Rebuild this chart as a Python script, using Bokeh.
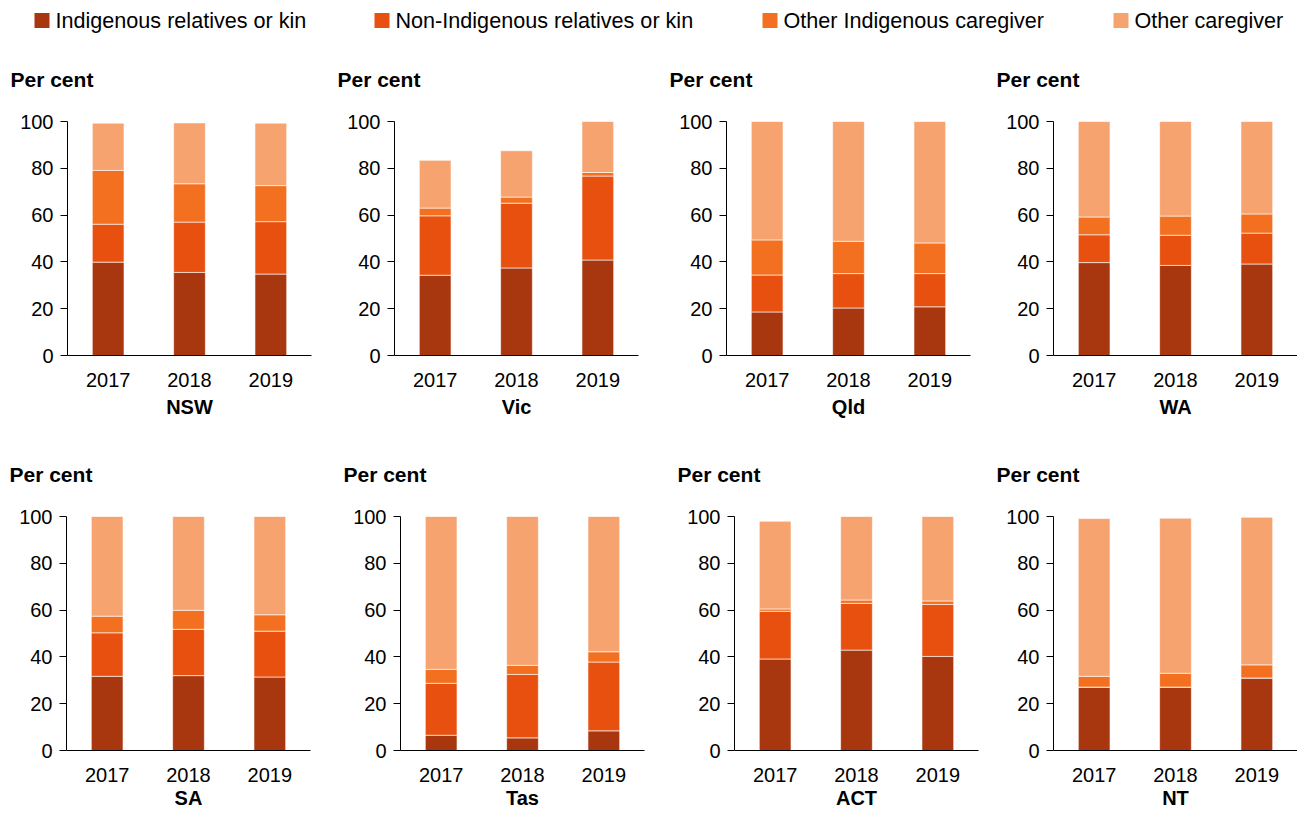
from bokeh.plotting import figure
from bokeh.layouts import column, row
from bokeh.models import ColumnDataSource, Range1d, FactorRange, SingleIntervalTicker
from bokeh.core.properties import value
from bokeh.embed import file_html
from bokeh.resources import INLINE

# ---------------- data ----------------
states = ["NSW", "Vic", "Qld", "WA", "SA", "Tas", "ACT", "NT"]
years = ["2017", "2018", "2019"]
series_names = ["Indigenous relatives or kin", "Non-Indigenous relatives or kin",
                "Other Indigenous caregiver", "Other caregiver"]

indigenous_kin = [[39.9, 35.5, 34.8], [34.3, 37.4, 40.8], [18.6, 20.3, 20.8], [39.7, 38.5, 39.1],
                  [31.7, 32.0, 31.4], [6.5, 5.4, 8.4], [39.1, 42.9, 40.2], [27.1, 27.1, 31.0]]
non_indigenous_kin = [[16.2, 21.5, 22.4], [25.4, 27.7, 35.9], [15.8, 14.7, 14.2], [11.9, 12.9, 13.2],
                      [18.6, 19.8, 19.6], [22.2, 27.1, 29.4], [20.4, 20.0, 22.2], [0.0, 0.0, 0.0]]
other_indigenous = [[23.0, 16.4, 15.4], [3.3, 2.6, 1.5], [15.0, 13.8, 13.1], [7.6, 8.2, 8.2],
                    [7.1, 8.1, 7.0], [6.0, 3.9, 4.4], [1.0, 1.4, 1.5], [4.6, 5.9, 5.6]]
other_caregiver = [[20.2, 26.0, 26.7], [20.4, 19.8, 21.8], [50.6, 51.2, 51.9], [40.8, 40.4, 39.5],
                   [42.6, 40.1, 42.0], [65.3, 63.6, 57.8], [37.5, 35.7, 36.1], [67.4, 66.3, 63.1]]

colors = ["#A8360E", "#E8500F", "#F37021", "#F6A370"]

FONT = "Liberation Sans"
FRAME_W = 244
FRAME_H = 234

# layout: (figure width, left border) per column, per row
top_cols = [(330, 67), (330, 64), (330, 66), (307, 63)]
bot_cols = [(330, 66), (330, 70), (330, 74), (307, 63)]
BORDER_TOP = 86
TOP_H = 395
BOT_H = 382


def panel(i, w, left, h, tick_standoff, label_standoff):
    keys = ["a", "b", "c", "d"]
    data = {"year": years}
    for k, s in zip(keys, [indigenous_kin, non_indigenous_kin, other_indigenous, other_caregiver]):
        data[k] = s[i]
    src = ColumnDataSource(data)
    p = figure(x_range=FactorRange(*years, range_padding=0), y_range=Range1d(0, 100),
               width=w, height=h, output_backend="svg", toolbar_location=None,
               min_border_left=left, min_border_right=w - left - FRAME_W,
               min_border_top=BORDER_TOP, min_border_bottom=h - BORDER_TOP - FRAME_H)
    p.vbar_stack(keys, x="year", width=0.39, color=colors, source=src,
                 line_color="white", line_width=0.6)
    p.outline_line_color = None
    p.grid.visible = False
    p.background_fill_color = "white"
    p.border_fill_color = "white"

    p.title.text = "Per cent"
    p.title.align = "left"
    p.title.offset = -57
    p.title.standoff = 61
    p.title.text_font = FONT
    p.title.text_font_size = "21px"
    p.title.text_font_style = "bold"
    p.title.text_color = "#000000"

    p.yaxis.ticker = SingleIntervalTicker(interval=20)
    p.yaxis.minor_tick_line_color = None
    p.yaxis.major_tick_out = 7
    p.yaxis.major_tick_in = 0
    p.yaxis.major_label_standoff = 7
    p.yaxis.major_label_text_font = FONT
    p.yaxis.major_label_text_font_size = "20px"
    p.yaxis.major_label_text_color = "#000000"
    p.yaxis.axis_line_color = "#000000"
    p.yaxis.major_tick_line_color = "#000000"

    p.xaxis.major_tick_line_color = None
    p.xaxis.minor_tick_line_color = None
    p.xaxis.major_label_standoff = tick_standoff
    p.xaxis.major_label_text_font = FONT
    p.xaxis.major_label_text_font_size = "20px"
    p.xaxis.major_label_text_color = "#000000"
    p.xaxis.axis_line_color = "#000000"
    p.xaxis.axis_label = states[i]
    p.xaxis.axis_label_standoff = label_standoff
    p.xaxis.axis_label_text_font = FONT
    p.xaxis.axis_label_text_font_size = "20px"
    p.xaxis.axis_label_text_font_style = "bold"
    p.xaxis.axis_label_text_color = "#000000"
    return p


top = [panel(i, w, l, TOP_H, 11, 6) for i, (w, l) in enumerate(top_cols)]
bot = [panel(i + 4, w, l, BOT_H, 11, 2) for i, (w, l) in enumerate(bot_cols)]

# legend strip
LW, LH = 1297, 35
leg = figure(width=LW, height=LH, x_range=Range1d(0, LW), y_range=Range1d(0, LH),
             output_backend="svg", toolbar_location=None, min_border=0)
leg.axis.visible = False
leg.grid.visible = False
leg.outline_line_color = None
legend_left = [34, 374, 762, 1113]
sq = 15
leg.rect(x=[v + sq / 2 for v in legend_left], y=[15] * 4, width=sq, height=sq,
         fill_color=colors, line_color=None)
leg.text(x=[v + sq + 6 for v in legend_left], y=[15] * 4, text=series_names,
         text_font=value(FONT), text_font_size="21.6px", text_baseline="middle",
         text_color="#000000")

layout = column(leg, row(*top), row(*bot))
open("out.html", "w").write(file_html(layout, INLINE))
